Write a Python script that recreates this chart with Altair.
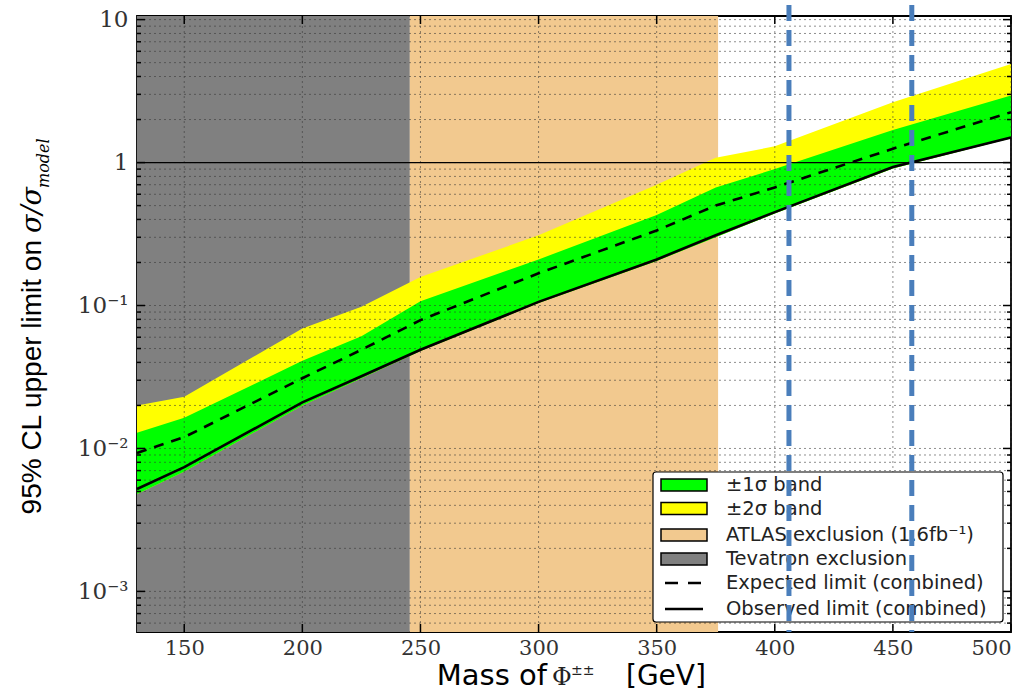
import altair as alt
import pandas as pd

# ---------------- data ----------------
mass = [130, 150, 200, 225, 250, 300, 350, 375, 400, 450, 500]
expected = [0.0093, 0.012, 0.031, 0.049, 0.079, 0.168, 0.335, 0.50, 0.67, 1.25, 2.25]
observed = [0.0052, 0.0074, 0.021, 0.032, 0.049, 0.106, 0.21, 0.31, 0.45, 0.93, 1.5]
one_sigma_hi = [0.0129, 0.0164, 0.041, 0.061, 0.107, 0.21, 0.43, 0.67, 0.90, 1.69, 2.95]
one_sigma_lo = [0.0048, 0.0069, 0.020, 0.031, 0.048, 0.104, 0.205, 0.30, 0.44, 0.91, 1.48]
two_sigma_hi = [0.020, 0.023, 0.069, 0.098, 0.158, 0.31, 0.70, 1.08, 1.30, 2.64, 4.9]

excl_names = ["Tevatron exclusion", "ATLAS exclusion"]
excl_start = [130, 245.5]
excl_end = [245.5, 376]
excl_colors = ["#808080", "#f2c98f"]

blue_lines = [406, 458]

x_ticks = [150, 200, 250, 300, 350, 400, 450, 500]
y_major = [0.001, 0.01, 0.1, 1, 10]
y_labels = ["10⁻³", "10⁻²", "10⁻¹", "1", "10"]
Y_MIN, Y_MAX = 5.2e-4, 10.6
y_minor = [k * 10.0 ** n for n in range(-4, 1) for k in range(2, 10)
           if Y_MIN <= k * 10.0 ** n <= Y_MAX]

legend_labels = ["±1σ band", "±2σ band", "ATLAS exclusion (1.6fb⁻¹)",
                 "Tevatron exclusion", "Expected limit (combined)",
                 "Observed limit (combined)"]
legend_fills = ["#00ff00", "#ffff00", "#f2c98f", "#808080"]

# ---------------- layout ----------------
W, H = 874, 616

df = pd.DataFrame({"mass": mass, "expected": expected, "observed": observed,
                   "s1hi": one_sigma_hi, "s1lo": one_sigma_lo, "s2hi": two_sigma_hi})
excl = pd.DataFrame({"name": excl_names, "start": excl_start, "end": excl_end})
dummy = pd.DataFrame({"a": [0]})

xs = alt.Scale(domain=[130, 500], nice=False, zero=False)
ys = alt.Scale(type="log", domain=[Y_MIN, Y_MAX], nice=False)

expr = ""
for v, lab in zip(y_major[:-1], y_labels[:-1]):
    expr += f"datum.value < {v * 3} ? '{lab}' : "
expr += f"'{y_labels[-1]}'"

X_AX = alt.Axis(values=x_ticks, title=None, grid=False, ticks=False, domain=False,
                labelFont="DejaVu Serif", labelFontSize=21, labelColor="#333",
                labelPadding=5, labelFontWeight="normal")
Y_AX = alt.Axis(values=y_major, labelExpr=expr, title=None, grid=False, ticks=False,
                domain=False, labelFont="DejaVu Serif", labelFontSize=23,
                labelColor="#333", labelPadding=9, labelFontWeight="normal")


def X(f):
    return alt.X(f, scale=xs, axis=X_AX)


def Y(f):
    return alt.Y(f, scale=ys, axis=Y_AX)


layers = []

# exclusion regions
layers.append(alt.Chart(excl).mark_rect().encode(
    x=X("start:Q"), x2="end:Q", y=alt.value(0), y2=alt.value(H),
    color=alt.Color("name:N", scale=alt.Scale(domain=excl_names, range=excl_colors),
                    legend=None)))

# bands
layers.append(alt.Chart(df).mark_area(color="#ffff00").encode(
    x=X("mass:Q"), y=Y("s2hi:Q"), y2="s1lo:Q"))
layers.append(alt.Chart(df).mark_area(color="#00ff00").encode(
    x=X("mass:Q"), y=Y("s1hi:Q"), y2="s1lo:Q"))

# grid on top of fills
grid_style = dict(color="#333", strokeDash=[2, 3], strokeWidth=1, opacity=0.55)
layers.append(alt.Chart(pd.DataFrame({"v": y_major + y_minor})).mark_rule(**grid_style)
              .encode(y=Y("v:Q")))
layers.append(alt.Chart(pd.DataFrame({"v": x_ticks})).mark_rule(**grid_style)
              .encode(x=X("v:Q")))

# y = 1 line
layers.append(alt.Chart(pd.DataFrame({"v": [1]})).mark_rule(color="black", strokeWidth=1.2)
              .encode(y=Y("v:Q")))

# limits
layers.append(alt.Chart(df).mark_line(color="black", strokeWidth=2.6, strokeDash=[10, 8])
              .encode(x=X("mass:Q"), y=Y("expected:Q")))
layers.append(alt.Chart(df).mark_line(color="black", strokeWidth=2.6)
              .encode(x=X("mass:Q"), y=Y("observed:Q")))

# inward ticks
ymaj_df = pd.DataFrame({"v": [v for v in y_major if v <= Y_MAX]})
ymin_df = pd.DataFrame({"v": y_minor})
xt_df = pd.DataFrame({"v": x_ticks})
tk = dict(color="black", strokeWidth=1.5)
layers.append(alt.Chart(ymaj_df).mark_rule(**tk).encode(y=Y("v:Q"), x=alt.value(0), x2=alt.value(8)))
layers.append(alt.Chart(ymaj_df).mark_rule(**tk).encode(y=Y("v:Q"), x=alt.value(W - 8), x2=alt.value(W)))
layers.append(alt.Chart(ymin_df).mark_rule(**tk).encode(y=Y("v:Q"), x=alt.value(0), x2=alt.value(4)))
layers.append(alt.Chart(ymin_df).mark_rule(**tk).encode(y=Y("v:Q"), x=alt.value(W - 4), x2=alt.value(W)))
layers.append(alt.Chart(xt_df).mark_rule(**tk).encode(x=X("v:Q"), y=alt.value(H - 8), y2=alt.value(H)))
layers.append(alt.Chart(xt_df).mark_rule(**tk).encode(x=X("v:Q"), y=alt.value(0), y2=alt.value(8)))

# legend
LX0, LX1, LY0, LY1 = 516, 866, 456, 606
layers.append(alt.Chart(dummy).mark_rect(fill="white", stroke="black", strokeWidth=1.2,
                                         cornerRadius=3)
              .encode(x=alt.value(LX0), x2=alt.value(LX1), y=alt.value(LY0), y2=alt.value(LY1)))
rows = [469, 492.5, 519, 543, 567, 593]
for i, fill in enumerate(legend_fills):
    layers.append(alt.Chart(dummy).mark_rect(fill=fill, stroke="black", strokeWidth=1.5)
                  .encode(x=alt.value(524), x2=alt.value(570),
                          y=alt.value(rows[i] - 6), y2=alt.value(rows[i] + 6)))
layers.append(alt.Chart(dummy).mark_rule(color="black", strokeWidth=2.6, strokeDash=[13, 10])
              .encode(x=alt.value(528), x2=alt.value(566), y=alt.value(rows[4])))
layers.append(alt.Chart(dummy).mark_rule(color="black", strokeWidth=2.6)
              .encode(x=alt.value(528), x2=alt.value(566), y=alt.value(rows[5])))
for i, lab in enumerate(legend_labels):
    layers.append(alt.Chart(dummy).mark_text(align="left", baseline="middle",
                                             font="DejaVu Sans", fontSize=19.5, color="#222")
                  .encode(x=alt.value(589), y=alt.value(rows[i]), text=alt.value(lab)))

# blue dashed annotation lines
layers.append(alt.Chart(pd.DataFrame({"m": blue_lines}))
              .mark_rule(color="#4a7ebb", strokeWidth=5, strokeDash=[16, 9])
              .encode(x=X("m:Q"), y=alt.value(-11), y2=alt.value(H)))

# x title
xt_base = 669
layers.append(alt.Chart(dummy).mark_text(align="right", baseline="alphabetic",
                                         font="DejaVu Sans", fontSize=29, color="black")
              .encode(x=alt.value(410), y=alt.value(xt_base), text=alt.value("Mass of")))
layers.append(alt.Chart(dummy).mark_text(align="left", baseline="alphabetic",
                                         font="DejaVu Serif", fontSize=24, color="#222")
              .encode(x=alt.value(415), y=alt.value(xt_base), text=alt.value("Φ")))
layers.append(alt.Chart(dummy).mark_text(align="left", baseline="alphabetic",
                                         font="DejaVu Serif", fontSize=14, color="#222")
              .encode(x=alt.value(434), y=alt.value(xt_base - 10), text=alt.value("±±")))
layers.append(alt.Chart(dummy).mark_text(align="left", baseline="alphabetic",
                                         font="DejaVu Sans", fontSize=28, color="black")
              .encode(x=alt.value(489), y=alt.value(xt_base), text=alt.value("[GeV]")))

# y title
layers.append(alt.Chart(dummy).mark_text(align="right", baseline="alphabetic", angle=270,
                                         font="Liberation Sans", fontSize=28,
                                         color="black")
              .encode(x=alt.value(-96), y=alt.value(224),
                      text=alt.value("95% CL upper limit on")))
layers.append(alt.Chart(dummy).mark_text(align="left", baseline="alphabetic", angle=270,
                                         font="DejaVu Serif", fontStyle="italic",
                                         fontSize=27, color="black")
              .encode(x=alt.value(-96), y=alt.value(217), text=alt.value("σ/σ")))
layers.append(alt.Chart(dummy).mark_text(align="left", baseline="alphabetic", angle=270,
                                         font="DejaVu Serif", fontStyle="italic",
                                         fontSize=16, color="black")
              .encode(x=alt.value(-88), y=alt.value(172), text=alt.value("model")))

chart = alt.layer(*layers).properties(
    width=W, height=H,
    padding={"left": 137, "top": 16, "right": 25, "bottom": 59},
    autosize=alt.AutoSizeParams(type="none"),
).configure_view(stroke="black", strokeWidth=1.8)

chart.save("out.html", embed_options={"renderer": "svg", "actions": False})
